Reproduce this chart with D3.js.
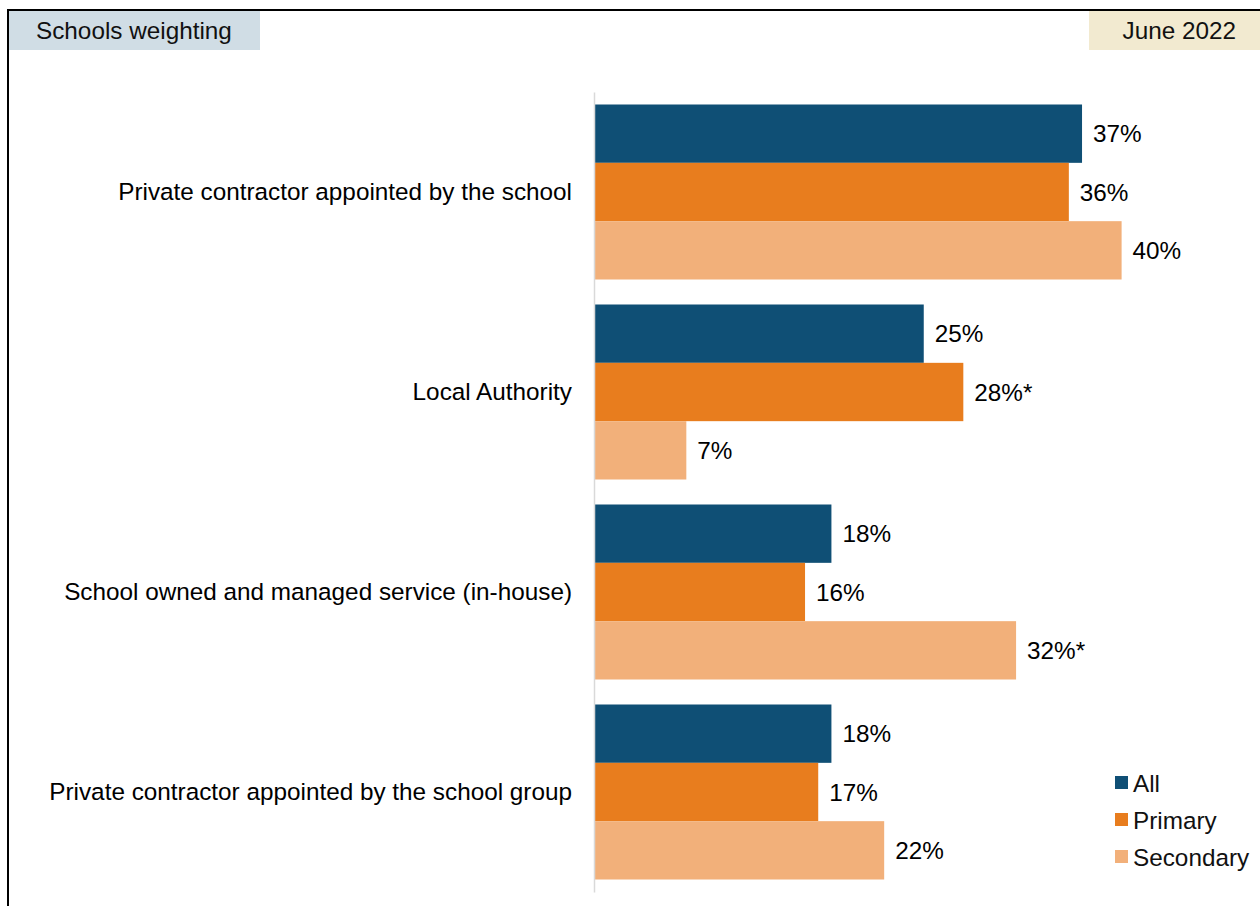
<!DOCTYPE html>
<html>
<head>
<meta charset="utf-8">
<script src="https://cdn.jsdelivr.net/npm/d3@7/dist/d3.min.js"></script>
<style>
  html, body { margin: 0; padding: 0; background: #fff; }
  svg { display: block; font-family: "Liberation Sans", Arial, sans-serif; }
</style>
</head>
<body>
<svg id="chart" width="1260" height="906"></svg>
<script>
// Who provides school catering, by school phase
const categories = [
  "Private contractor appointed by the school",
  "Local Authority",
  "School owned and managed service (in-house)",
  "Private contractor appointed by the school group"
];
const seriesNames = ["All", "Primary", "Secondary"];
const allValues       = [37, 25, 18, 18];
const primaryValues   = [36, 28, 16, 17];
const secondaryValues = [40, 7, 32, 22];
// Asterisks mark significant differences
const allLabels       = ["37%", "25%", "18%", "18%"];
const primaryLabels   = ["36%", "28%*", "16%", "17%"];
const secondaryLabels = ["40%", "7%", "32%*", "22%"];
const colors = ["#0f4f75", "#e87d1e", "#f2b07a"];

const FS = 24.3;

const series = [
  { name: seriesNames[0], values: allValues, labels: allLabels, color: colors[0] },
  { name: seriesNames[1], values: primaryValues, labels: primaryLabels, color: colors[1] },
  { name: seriesNames[2], values: secondaryValues, labels: secondaryLabels, color: colors[2] }
];

const svg = d3.select("#chart");

// Frame
svg.append("path")
  .attr("d", "M8,906 L8,10 L1260,10")
  .attr("fill", "none").attr("stroke", "#000").attr("stroke-width", 2);

// Header tags
svg.append("rect").attr("x", 9).attr("y", 11).attr("width", 251).attr("height", 39).attr("fill", "#d0dde5");
svg.append("text").attr("x", 36).attr("y", 39).attr("font-size", FS).attr("fill", "#111").text("Schools weighting");
svg.append("rect").attr("x", 1089).attr("y", 11).attr("width", 171).attr("height", 39).attr("fill", "#f2ead0");
svg.append("text").attr("x", 1236).attr("y", 39).attr("text-anchor", "end").attr("font-size", FS).attr("fill", "#111").text("June 2022");

// Scales
const x = d3.scaleLinear().domain([0, 50]).range([594, 594 + 13.19 * 50]);
const y = d3.scaleBand().domain(categories).range([92, 892]).paddingInner(0).paddingOuter(0);
const inner = d3.scaleBand().domain(seriesNames).range([12.5, 200 - 12.5]);

// Bars
const groups = svg.append("g").selectAll("g")
  .data(categories).join("g")
  .attr("transform", d => `translate(0,${y(d)})`);

series.forEach(s => {
  groups.append("rect")
    .attr("x", x(0))
    .attr("y", inner(s.name))
    .attr("width", (d, i) => x(s.values[i]) - x(0))
    .attr("height", inner.bandwidth())
    .attr("fill", s.color);
  groups.append("text")
    .attr("x", (d, i) => x(s.values[i]) + 11)
    .attr("y", inner(s.name) + inner.bandwidth() / 2)
    .attr("dy", "0.35em")
    .attr("font-size", FS)
    .attr("fill", "#000")
    .text((d, i) => s.labels[i]);
});

// Category axis
const axis = svg.append("g").attr("transform", `translate(${x(0)},0)`)
  .call(d3.axisLeft(y).tickSize(0).tickPadding(22));
axis.select(".domain").attr("stroke", "#d9d9d9").attr("stroke-width", 1.5);
axis.selectAll("text").attr("font-size", FS).attr("fill", "#000")
  .attr("font-family", "Liberation Sans, Arial, sans-serif");

// Legend
const legend = svg.append("g").attr("transform", "translate(1115,783)");
series.forEach((s, i) => {
  const g = legend.append("g").attr("transform", `translate(0,${i * 37})`);
  g.append("rect").attr("x", 0).attr("y", -7).attr("width", 13).attr("height", 13).attr("fill", s.color);
  g.append("text").attr("x", 18).attr("y", 0).attr("dy", "0.35em").attr("font-size", FS).attr("fill", "#111").text(s.name);
});
</script>
</body>
</html>
